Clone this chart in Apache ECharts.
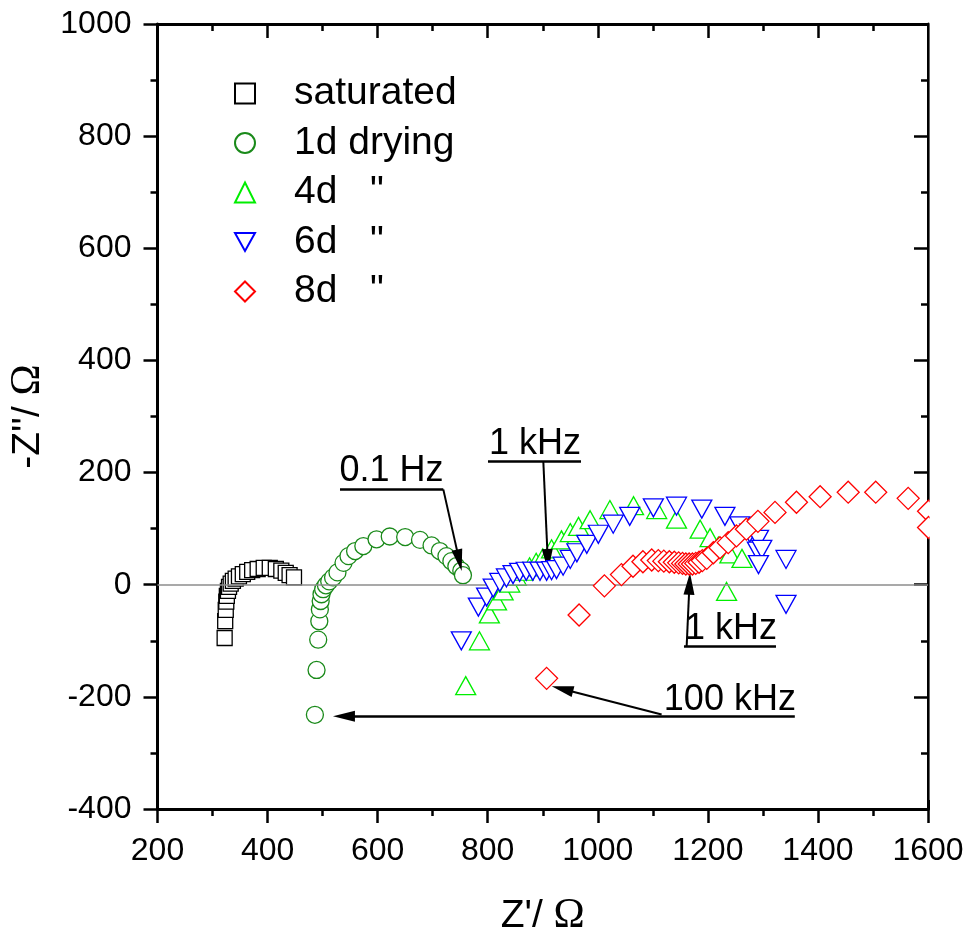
<!DOCTYPE html>
<html>
<head>
<meta charset="utf-8">
<script src="https://cdn.jsdelivr.net/npm/echarts@6/dist/echarts.min.js"></script>
<style>html,body{margin:0;padding:0;background:#fff}#c{width:969px;height:938px}</style>
</head>
<body>
<div id="c"></div>
<script>
// ---- data (Z' in ohm, -Z'' in ohm) ----
const seriesNames = ['saturated', '1d drying', '4d   "', '6d   "', '8d   "'];

const satRe = [322, 323, 324, 325, 326, 328, 330, 333, 337, 342, 348, 355, 363, 372, 382, 393, 404, 415, 425, 433, 440, 448];
const satIm = [-95, -65, -45, -30, -20, -11, -4, 2, 7, 11, 15, 19, 23, 26, 28, 30, 30, 28, 25, 21, 17, 13];

const d1Re = [486, 489, 492, 494, 495, 496.5, 498, 501, 506, 512, 519, 527, 538, 547, 559, 574, 598, 622, 650, 677, 698, 713, 725, 734, 743, 752, 755];
const d1Im = [-232, -152, -98, -65, -44, -29, -17, -8, -1, 6, 13, 22, 39, 51, 60, 69, 81, 86, 85, 80, 70, 60, 51, 42, 33, 25, 17];

const d4Re = [760, 785, 803, 816, 828, 840, 852, 864, 876, 888, 900, 916, 934, 950, 965, 986, 1022, 1065, 1107, 1143, 1186, 1204, 1219, 1240, 1262, 1234];
const d4Im = [-180, -100, -52, -29, -11, 3, 15, 24, 32, 40, 48, 64, 80, 93, 104, 116, 134, 141, 134, 117, 99, 84, 69, 55, 47, -12];

const d6Re = [752, 783, 798, 810, 822, 834, 846, 858, 870, 882, 895, 907, 916, 925, 937, 950, 962, 980, 1001, 1028, 1058, 1101, 1143, 1189, 1231, 1258, 1276, 1292, 1290, 1298, 1292, 1342, 1342];
const d6Im = [-100, -40, -22, -6, 4, 12, 18, 22, 24, 24, 24, 24, 25, 27, 33, 45, 57, 72, 90, 108, 122, 137, 140, 135, 122, 105, 92, 81, 60, 63, 36, 45, -35];

const d8Re = [907, 966, 1012, 1043, 1064, 1082, 1098, 1110, 1120, 1130, 1139, 1147, 1154, 1160, 1166, 1172, 1178, 1184, 1190, 1198, 1210, 1222, 1237, 1252, 1270, 1291, 1322, 1361, 1404, 1455, 1505, 1564, 1601, 1601];
const d8Im = [-167, -54, -2, 18, 33, 41, 44, 43, 42, 41, 40, 39, 38, 37, 37, 37, 38, 40, 43, 47, 57, 66, 75, 87, 99, 113, 129, 147, 157, 165, 165, 154, 131, 102];

const xMin = 200, xMax = 1600, xStep = 200;
const yMin = -400, yMax = 1000, yStep = 200;

const annoTexts = ['0.1 Hz', '1 kHz', '1 kHz', '100 kHz'];

// ---- build ----
const zip = (a, b) => a.map((v, i) => [v, b[i]]);
const FONT = 'Liberation Sans';
const DOWN_TRIANGLE = 'path://M0,0L20,0L10,18Z';

const chart = echarts.init(document.getElementById('c'), null, { renderer: 'canvas' });

function mkSeries(name, re, im, symbol, size, color, z) {
  return {
    name: name, type: 'scatter', data: zip(re, im),
    symbol: symbol, symbolSize: size, clip: false,
    itemStyle: { color: '#ffffff', borderColor: color, borderWidth: 1.3, opacity: 1 },
    emphasis: { disabled: true }, z: z, animation: false
  };
}

const axisLineStyle = { color: '#000', width: 3 };
const tickStyle = { color: '#000', width: 2.5 };
const labelStyle = { fontSize: 32, color: '#000', fontFamily: FONT, margin: 26, formatter: v => String(v) };
const nameRich = {
  a: { fontSize: 39, fontFamily: FONT, color: '#000' },
  b: { fontSize: 42, fontFamily: 'Liberation Serif', color: '#000' }
};

const tipLine = { color: '#000', width: 2 };
const ul = { color: '#000', width: 2.5 };

const option = {
  animation: false,
  backgroundColor: '#fff',
  grid: { left: 157.5, right: 41, top: 24, bottom: 129, containLabel: false, outerBoundsMode: 'none' },
  graphic: [{
    type: 'rect', z: 50, silent: true,
    shape: { x: 929.6, y: 0, width: 40, height: 800 },
    style: { fill: '#ffffff' }
  }],
  legend: {
    orient: 'vertical', left: 229, top: 69,
    itemWidth: 20, itemHeight: 20, itemGap: 10.5,
    data: seriesNames, selectedMode: false,
    textStyle: { fontSize: 39, fontFamily: FONT, color: '#000', lineHeight: 39, padding: [0, 0, 0, 34] }
  },
  xAxis: [{
    type: 'value', min: xMin, max: xMax, interval: xStep, position: 'bottom',
    axisLine: { show: true, onZero: false, lineStyle: axisLineStyle },
    axisTick: { show: true, inside: false, length: 14, lineStyle: tickStyle },
    minorTick: { show: true, splitNumber: 2, length: 7, lineStyle: tickStyle },
    axisLabel: labelStyle,
    splitLine: { show: false }, minorSplitLine: { show: false },
    name: "{a|Z'/ }{b|Ω}", nameLocation: 'middle', nameGap: 86,
    nameTextStyle: { rich: nameRich }
  }, {
    type: 'value', min: xMin, max: xMax, interval: xStep, position: 'top',
    axisLine: { show: true, onZero: false, lineStyle: axisLineStyle },
    axisTick: { show: true, inside: true, length: 14, lineStyle: tickStyle },
    minorTick: { show: true, splitNumber: 2, length: 7, lineStyle: tickStyle },
    axisLabel: { show: false }, splitLine: { show: false }
  }],
  yAxis: [{
    type: 'value', min: yMin, max: yMax, interval: yStep, position: 'left',
    axisLine: { show: true, onZero: false, lineStyle: axisLineStyle },
    axisTick: { show: true, inside: false, length: 14, lineStyle: tickStyle },
    minorTick: { show: true, splitNumber: 2, length: 7, lineStyle: tickStyle },
    axisLabel: labelStyle,
    splitLine: { show: false }, minorSplitLine: { show: false },
    name: "{a|-Z''/ }{b|Ω}", nameLocation: 'middle', nameGap: 106, nameRotate: 90,
    nameTextStyle: { rich: nameRich }
  }, {
    type: 'value', min: yMin, max: yMax, interval: yStep, position: 'right',
    axisLine: { show: true, onZero: false, lineStyle: axisLineStyle },
    axisTick: { show: true, inside: true, length: 14, lineStyle: tickStyle },
    minorTick: { show: true, splitNumber: 2, length: 7, lineStyle: tickStyle },
    axisLabel: { show: false }, splitLine: { show: false }
  }],
  series: [
    mkSeries(seriesNames[0], satRe, satIm, 'rect', 15, '#000000', 2),
    mkSeries(seriesNames[1], d1Re, d1Im, 'circle', 17, '#1a8a1a', 3),
    mkSeries(seriesNames[2], d4Re, d4Im, 'triangle', [20, 18], '#00ee00', 4),
    mkSeries(seriesNames[3], d6Re, d6Im, DOWN_TRIANGLE, [20, 18], '#0000ff', 5),
    mkSeries(seriesNames[4], d8Re, d8Im, 'diamond', [22, 22], '#ff0000', 6),
    {
      name: 'annot', type: 'scatter', data: [], z: 10, silent: true,
      markLine: {
        silent: true, animation: false, symbol: 'none',
        label: { show: false },
        emphasis: { disabled: true },
        lineStyle: { color: '#000', width: 2, type: 'solid' },
        data: [
          // zero line
          [{ coord: [xMin, 0], symbol: 'none', lineStyle: { color: '#8c8c8c', width: 1.5 } }, { coord: [xMax, 0], symbol: 'none' }],
          // 0.1 Hz
          [{ coord: [531.6, 170], symbol: 'none', lineStyle: ul }, { coord: [719.3, 170], symbol: 'none' }],
          [{ coord: [719.3, 170], symbol: 'none', lineStyle: tipLine }, { coord: [748.3, 43.4], symbol: 'triangle', symbolSize: [11, 22] }],
          // 1 kHz upper
          [{ coord: [800.5, 220.7], symbol: 'none', lineStyle: ul }, { coord: [969.5, 220.7], symbol: 'none' }],
          [{ coord: [901, 220.7], symbol: 'none', lineStyle: tipLine }, { coord: [909.1, 43.9], symbol: 'triangle', symbolSize: [11, 22] }],
          // 1 kHz lower
          [{ coord: [1156.6, -109.6], symbol: 'none', lineStyle: ul }, { coord: [1323.8, -109.6], symbol: 'none' }],
          [{ coord: [1161.5, -109.6], symbol: 'none', lineStyle: tipLine }, { coord: [1166.6, 1.8], symbol: 'triangle', symbolSize: [11, 22] }],
          // 100 kHz
          [{ coord: [1358, -234.6], symbol: 'none', lineStyle: ul }, { coord: [538.8, -234.6], symbol: 'triangle', symbolSize: [11, 22] }],
          [{ coord: [1116, -231.6], symbol: 'none', lineStyle: tipLine }, { coord: [935.6, -185.9], symbol: 'triangle', symbolSize: [11, 22] }]
        ]
      },
      markPoint: {
        silent: true, animation: false,
        symbol: 'circle', symbolSize: 1,
        itemStyle: { color: 'rgba(0,0,0,0)' },
        label: { show: true, position: 'inside', color: '#000', fontSize: 36, fontFamily: FONT, formatter: p => p.name },
        data: [
          { name: annoTexts[0], coord: [625, 203] },
          { name: annoTexts[1], coord: [886, 250] },
          { name: annoTexts[2], coord: [1242, -79] },
          { name: annoTexts[3], coord: [1240, -205] }
        ]
      }
    }
  ]
};

chart.setOption(option);
</script>
</body>
</html>
